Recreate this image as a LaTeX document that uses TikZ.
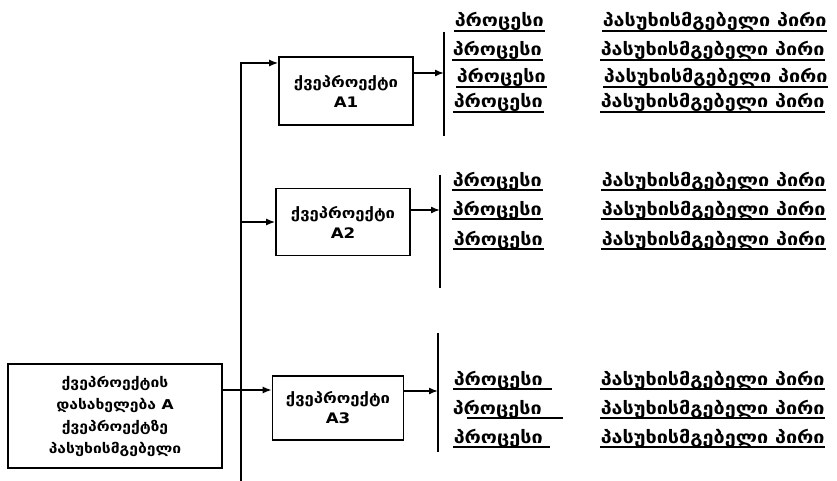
\documentclass[tikz,border=0pt]{standalone}
\usepackage{fontspec}
\newfontfamily\geo[FakeStretch=1.15]{DejaVu Sans}
\usetikzlibrary{arrows.meta}

\begin{document}
\begin{tikzpicture}[x=1pt,y=-1pt,line width=1.5pt,>={Latex[length=9pt,width=7pt]}]
    \tikzset{
        box/.style={draw,line width=1.7pt,align=center,inner sep=0pt,font=\geo\bfseries\fontsize{14.5}{20}\selectfont},
        proc/.style={anchor=base west,inner sep=0pt,font=\geo\bfseries\fontsize{17.2}{18}\selectfont},
        uline/.style={line width=1.2pt}
    }
    \useasboundingbox (0,0) rectangle (837,481);

    % main box and sub-projects
    \node[box,minimum width=214,minimum height=104,font=\geo\bfseries\fontsize{13.6}{22}\selectfont] (main) at (115,416)
        {ქვეპროექტის\\დასახელება A\\ქვეპროექტზე\\პასუხისმგებელი};
    \node[box,minimum width=134,minimum height=68] (A1) at (346,91) {ქვეპროექტი\\A1};
    \node[box,minimum width=134,minimum height=67] (A2) at (343,222) {ქვეპროექტი\\A2};
    \node[box,minimum width=131,minimum height=64] (A3) at (338,408) {ქვეპროექტი\\A3};

    \coordinate (top) at (241,63);
    \coordinate (bot) at (241,481);
    \coordinate (j3) at (241,390);

    \draw[->] (bot) -- (top) -- (top -| A1.west);
    \draw[->] (A2.west -| top) -- (A2.west);
    \draw (main.east |- j3) -- (j3);
    \draw[->] (j3) -- (j3 -| A3.west);

    % brackets
    \coordinate (b1t) at (444,32);  \coordinate (b1b) at (444,136);
    \coordinate (b2t) at (440,175); \coordinate (b2b) at (440,288);
    \coordinate (b3t) at (438,333); \coordinate (b3b) at (438,452);
    \draw (b1t) -- (b1b);
    \draw (b2t) -- (b2b);
    \draw (b3t) -- (b3b);
    \draw[->] (A1.east |- 0,73) -- (b1t |- 0,73);
    \draw[->] (A2.east |- 0,210) -- (b2t |- 0,210);
    \draw[->] (A3.east |- 0,391) -- (b3t |- 0,391);

    % processes and responsible persons
    \foreach \n/\px/\rx/\y/\ua/\ub in {11/454/602/27/0/0, 12/452/600/56/0/0, 13/456/603/83/0/0, 14/453/600/108/0/0,
                              21/452/601/186/0/0, 22/452/601/215/0/0, 23/453/601/245/0/0,
                              31/453/600/385/0/8, 32/452/600/414/15/20, 33/453/600/443/0/6} {
        \node[proc] (p\n) at (\px,\y) {პროცესი};
        \node[proc] (r\n) at (\rx,\y) {პასუხისმგებელი პირი};
        \draw[uline] ([xshift=\ua,yshift=-4pt]p\n.base west) -- ([xshift=\ub,yshift=-4pt]p\n.base east);
        \draw[uline] ([yshift=-4pt]r\n.base west) -- ([yshift=-4pt]r\n.base east);
    }
\end{tikzpicture}
\end{document}
